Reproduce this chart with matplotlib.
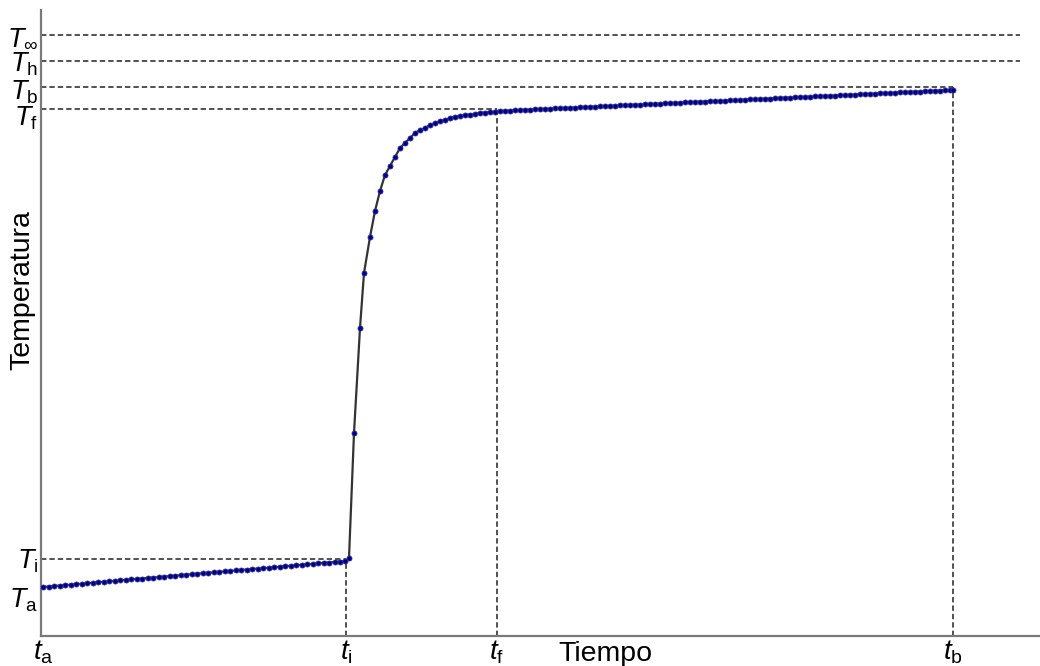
import matplotlib
matplotlib.use("Agg")
import matplotlib.pyplot as plt
import matplotlib.transforms as mtransforms

plt.rcParams['font.family'] = ['Liberation Sans', 'DejaVu Sans']
plt.rcParams['mathtext.fontset'] = 'custom'
plt.rcParams['mathtext.rm'] = 'Liberation Sans'
plt.rcParams['mathtext.it'] = 'Liberation Sans:italic'
plt.rcParams['mathtext.sf'] = 'Liberation Sans'

# ---- data (time and temperature in arbitrary units) ----
t_pre = [43, 49, 54, 60, 65, 71, 76, 82, 87, 93, 98, 104, 109, 115, 120, 126, 131, 137,
         142, 148, 153, 159, 164, 170, 175, 181, 186, 192, 197, 203, 208, 214, 219, 225,
         230, 236, 241, 247, 252, 258, 263, 269, 274, 280, 285, 291, 296, 302, 307, 313,
         318, 324, 329, 335, 340, 345]
T_pre = [49.0, 49.5, 49.9, 50.5, 50.9, 51.4, 51.8, 52.3, 52.8, 53.3, 53.7, 54.2, 54.7,
         55.2, 55.6, 56.1, 56.6, 57.1, 57.5, 58.0, 58.4, 59.0, 59.4, 59.9, 60.3, 60.8,
         61.3, 61.8, 62.2, 62.7, 63.2, 63.7, 64.1, 64.6, 65.0, 65.6, 66.0, 66.5, 66.9,
         67.4, 67.9, 68.4, 68.8, 69.3, 69.8, 70.3, 70.7, 71.2, 71.6, 72.2, 72.6, 73.1,
         73.5, 74.0, 74.5, 75.0]

t_rise = [349, 354, 360, 364, 370, 375, 380, 385, 390, 395, 400, 405, 410, 415, 420,
          425, 430, 435, 440, 445, 450, 455, 460, 465, 470, 475, 480, 485, 490, 495, 500]
T_rise = [78, 203, 308, 363, 399, 425, 445, 461, 470, 479, 488, 493, 498, 503, 506,
          508, 511, 513, 515, 516, 518, 519, 520, 521, 521.5, 522, 523, 523.5, 524,
          524.5, 525]

t_post = [505, 510, 515, 520, 525, 530, 535, 540, 545, 550, 555, 560, 565, 570, 575,
          580, 585, 590, 595, 600, 605, 610, 615, 620, 625, 630, 635, 640, 645, 650,
          655, 660, 665, 670, 675, 680, 685, 690, 695, 700, 705, 710, 715, 720, 725,
          730, 735, 740, 745, 750, 755, 760, 765, 770, 775, 780, 785, 790, 795, 800,
          805, 810, 815, 820, 825, 830, 835, 840, 845, 850, 855, 860, 865, 870, 875,
          880, 885, 890, 895, 900, 905, 910, 915, 920, 925, 930, 935, 940, 945, 950, 953]
T_post = [525.2, 525.5, 525.7, 525.9, 526.2, 526.4, 526.6, 526.9, 527.1, 527.3, 527.6,
          527.8, 528.0, 528.2, 528.5, 528.7, 528.9, 529.2, 529.4, 529.6, 529.9, 530.1,
          530.3, 530.6, 530.8, 531.0, 531.3, 531.5, 531.7, 532.0, 532.2, 532.4, 532.7,
          532.9, 533.1, 533.4, 533.6, 533.8, 534.0, 534.3, 534.5, 534.7, 535.0, 535.2,
          535.4, 535.7, 535.9, 536.1, 536.4, 536.6, 536.8, 537.1, 537.3, 537.5, 537.8,
          538.0, 538.2, 538.5, 538.7, 538.9, 539.2, 539.4, 539.6, 539.8, 540.1, 540.3,
          540.5, 540.8, 541.0, 541.2, 541.5, 541.7, 541.9, 542.2, 542.4, 542.6, 542.9,
          543.1, 543.3, 543.6, 543.8, 544.0, 544.3, 544.5, 544.7, 545.0, 545.2, 545.4,
          545.7, 545.9, 546.0]

# reference levels
T_levels = {'inf': 601, 'h': 575, 'b': 549, 'f': 527, 'i': 77, 'a': 39}
t_marks = {'a': 43, 'i': 346, 'f': 497, 'b': 953}
ytick_vals = [T_levels['a'], T_levels['i'], T_levels['f'], T_levels['b'], T_levels['h'], T_levels['inf']]
ytick_labels = [r'$T_\mathrm{a}$', r'$T_\mathrm{i}$', r'$T_\mathrm{f}$', r'$T_\mathrm{b}$',
                r'$T_\mathrm{h}$', r'$T_\infty$']
xtick_vals = [t_marks['a'], t_marks['i'], t_marks['f'], t_marks['b']]
xtick_labels = [r'$t_\mathrm{a}$', r'$t_\mathrm{i}$', r'$t_\mathrm{f}$', r'$t_\mathrm{b}$']

t_all = t_pre + t_rise + t_post
T_all = T_pre + T_rise + T_post

fig = plt.figure(figsize=(10.4, 6.66), dpi=100)
ax = fig.add_axes([41/1040, 1 - 636/666, 1 - 41/1040, 626/666])
ax.set_xlim(41, 1040)
ax.set_ylim(0, 626)

dash = dict(color='#222222', lw=1.1, ls=(0, (3.5, 2)))
x0 = 41
xend = 1020
ax.plot([x0, xend], [T_levels['inf']] * 2, **dash)
ax.plot([x0, xend], [T_levels['h']] * 2, **dash)
ax.plot([x0, t_marks['b']], [T_levels['b']] * 2, **dash)
ax.plot([x0, t_marks['f']], [T_levels['f']] * 2, **dash)
ax.plot([x0, t_marks['i']], [T_levels['i']] * 2, **dash)
ax.plot([t_marks['i']] * 2, [0, T_levels['i']], **dash)
ax.plot([t_marks['f']] * 2, [0, T_levels['f']], **dash)
ax.plot([t_marks['b']] * 2, [0, T_levels['b']], **dash)

ax.plot(t_all, T_all, color='#333333', lw=1.6, zorder=3)
ax.plot(t_all, T_all, ls='none', marker='o', ms=3.6, mfc='#000080', mec='#2a2aa0',
        mew=0.6, zorder=4)

for s in ['top', 'right']:
    ax.spines[s].set_visible(False)
for s in ['left', 'bottom']:
    ax.spines[s].set_color('#7a7a7a')
    ax.spines[s].set_linewidth(1.6)

ax.set_yticks(ytick_vals)
ax.set_yticklabels(ytick_labels, fontsize=19.5)
ax.set_xticks(xtick_vals)
ax.set_xticklabels(xtick_labels, fontsize=20)
ax.tick_params(axis='both', length=0)
ax.tick_params(axis='y', pad=2)
ax.tick_params(axis='x', pad=2)

# small vertical nudges of y tick labels (pixels, negative = down)
nudges = [0, 1, -6, -2, 0, 0]
for lab, dy in zip(ax.get_yticklabels(), nudges):
    lab.set_transform(lab.get_transform() +
                      mtransforms.ScaledTranslation(0, dy / 100, fig.dpi_scale_trans))

fig.text(605/1040, 1 - 654/666, 'Tiempo', fontsize=20.5, ha='center', va='center')
fig.text(22/1040, 1 - 290/666, 'Temperatura', fontsize=20.5, ha='center', va='center',
         rotation=90)

fig.savefig('out.png', dpi=100)
